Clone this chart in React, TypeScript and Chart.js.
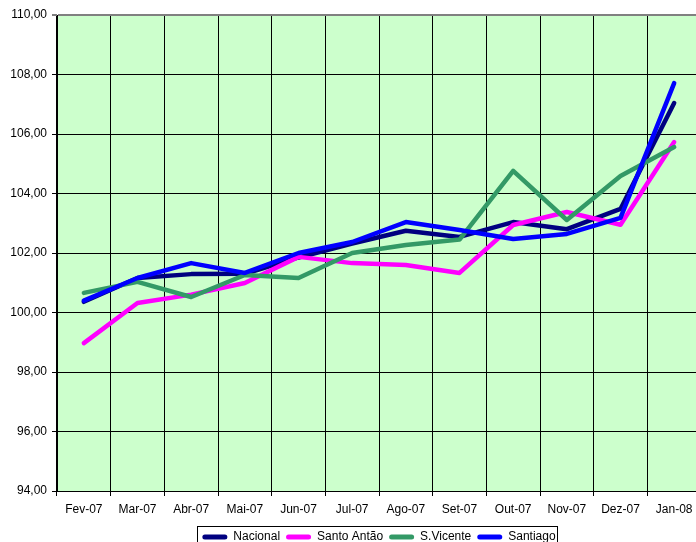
import React, { useEffect, useRef } from "react";
import { Chart, registerables } from "chart.js";

Chart.register(...registerables);

const categories = ["Fev-07", "Mar-07", "Abr-07", "Mai-07", "Jun-07", "Jul-07", "Ago-07", "Set-07", "Out-07", "Nov-07", "Dez-07", "Jan-08"];
const nacional = [100.36, 101.16, 101.29, 101.3, 101.85, 102.32, 102.75, 102.54, 103.04, 102.8, 103.48, 107.04];
const santoAntao = [98.97, 100.32, 100.6, 100.99, 101.87, 101.66, 101.6, 101.33, 102.94, 103.38, 102.95, 105.73];
const sVicente = [100.66, 101.03, 100.52, 101.26, 101.16, 102.0, 102.27, 102.45, 104.76, 103.11, 104.59, 105.56];
const santiago = [100.4, 101.16, 101.66, 101.33, 102.0, 102.37, 103.04, 102.77, 102.47, 102.64, 103.18, 107.71];
const yTicksMin = 94;
const yTicksMax = 110;
const yStep = 2;

const FONT = 'Arial, "Liberation Sans", sans-serif';

export default function App() {
  const ref = useRef<HTMLCanvasElement | null>(null);

  useEffect(() => {
    if (!ref.current) return;
    const bgPlugin = {
      id: "bg",
      beforeDraw(chart: any) {
        const { ctx, chartArea } = chart;
        ctx.save();
        ctx.fillStyle = "#CCFFCC";
        ctx.fillRect(chartArea.left, chartArea.top, chartArea.right - chartArea.left, chartArea.bottom - chartArea.top);
        ctx.restore();
      },
      afterDraw(chart: any) {
        const lg = chart.legend;
        if (!lg || !lg.legendHitBoxes || !lg.legendHitBoxes.length) return;
        const hb = lg.legendHitBoxes;
        let l = Infinity, r = -Infinity, t = Infinity;
        hb.forEach((b: any) => {
          l = Math.min(l, b.left);
          r = Math.max(r, b.left + b.width);
          t = Math.min(t, b.top);
        });
        const ctx = chart.ctx;
        ctx.save();
        ctx.strokeStyle = "#000";
        ctx.lineWidth = 1;
        const cy = t + 6;
        ctx.strokeRect(Math.round(l - 5) + 0.5, Math.round(cy - 11) + 0.5, Math.round(r - l + 7), 30);
        ctx.restore();
      },
    };

    const mk = (label: string, data: number[], color: string, order: number) => ({
      label,
      data,
      borderColor: color,
      backgroundColor: color,
      borderWidth: 4.5,
      borderCapStyle: "round" as const,
      borderJoinStyle: "round" as const,
      pointRadius: 0,
      tension: 0,
      fill: false,
      order,
    });

    const chart = new Chart(ref.current, {
      type: "line",
      data: {
        labels: categories,
        datasets: [
          mk("Nacional", nacional, "#000080", 3),
          mk("Santo Antão", santoAntao, "#FF00FF", 2),
          mk("S.Vicente", sVicente, "#339966", 1),
          mk("Santiago", santiago, "#0000FF", 0),
        ],
      },
      options: {
        responsive: false,
        animation: false,
        devicePixelRatio: 1,
        layout: { padding: { top: 15, left: 0, right: 0, bottom: 0 } },
        plugins: {
          tooltip: { enabled: false },
          legend: {
            position: "bottom",
            fullSize: false,
            labels: {
              color: "#000",
              font: { family: FONT, size: 12 },
              boxWidth: 25,
              boxHeight: 5,
              padding: 6,
              sort: (a: any, b: any) => a.datasetIndex - b.datasetIndex,
              generateLabels: (chart: any) => {
                const items = Chart.defaults.plugins.legend.labels.generateLabels(chart);
                return items.map((it: any) => ({ ...it, lineWidth: 0, borderRadius: 2.5 }));
              },
            },
          },
        },
        scales: {
          x: {
            offset: true,
            grid: { offset: true, color: "#000", lineWidth: 1, tickLength: 5 },
            border: { color: "#000" },
            ticks: { color: "#000", font: { family: FONT, size: 12 }, padding: 6, maxRotation: 0, autoSkip: false },
            afterFit: (s: any) => {
              s.height = 34;
            },
          },
          y: {
            min: yTicksMin,
            max: yTicksMax,
            grid: {
              color: (c: any) => (c.tick && c.tick.value === yTicksMax ? "#808080" : "#000"),
              lineWidth: (c: any) => (c.tick && c.tick.value === yTicksMax ? 2 : 1),
              tickLength: 5,
            },
            border: { color: "#000" },
            ticks: {
              stepSize: yStep,
              color: "#000",
              font: { family: FONT, size: 12 },
              padding: 5,
              callback: (v: any) => Number(v).toFixed(2).replace(".", ","),
            },
            afterFit: (s: any) => {
              s.width = 57;
            },
          },
        },
      },
      plugins: [bgPlugin],
    });
    return () => chart.destroy();
  }, []);

  return (
    <div style={{ position: "fixed", left: 0, top: 0, width: 696, height: 542, overflow: "hidden", background: "#fff" }}>
      <canvas ref={ref} width={701} height={553} style={{ display: "block", width: 701, height: 553 }} />
    </div>
  );
}
